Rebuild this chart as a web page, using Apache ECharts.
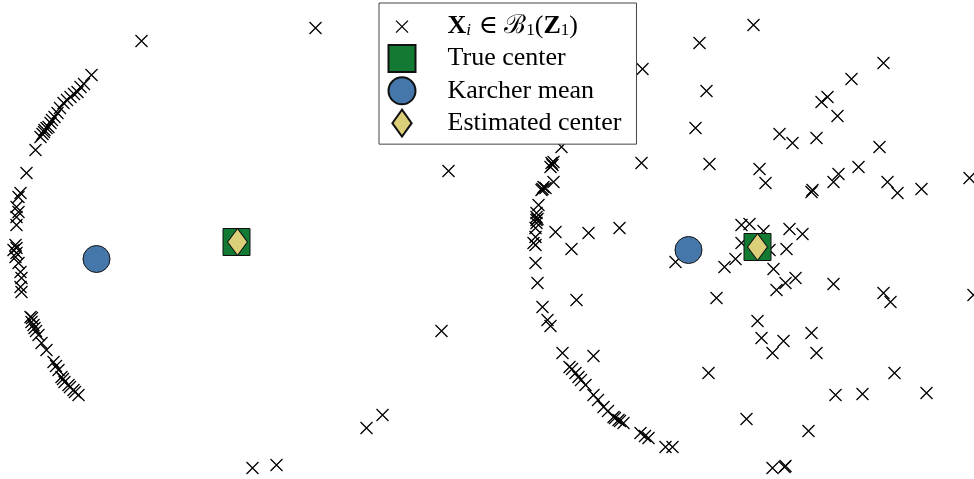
<!DOCTYPE html>
<html>
<head>
<meta charset="utf-8">
<script src="https://cdn.jsdelivr.net/npm/echarts@6/dist/echarts.min.js"></script>
<style>
html,body{margin:0;padding:0;background:#fff;}
#chart{width:974px;height:479px;}
</style>
</head>
<body>
<div id="chart"></div>
<script>
// Series names (legend order)
const seriesNames = ['X_i ∈ B_1(Z_1)', 'True center', 'Karcher mean', 'Estimated center'];

// Left panel: sample points (units: true center at origin)
const leftPoints = [
  [-72.5,83.5],[-78,77.5],[-79.5,75],[-83,72.5],[-86.5,69.5],[-89.5,64.5],[-91,62.5],[-93,59.5],
  [-94,57.5],[-96,56],[-97,54],[-98,52.5],[-100.5,46],[-105,34.5],[-108,24.5],[-109,22.5],
  [-110,17.5],[-109,15],[-110,12.5],[-110,8.5],
  [-95,57],[-96.25,55],[-92.25,61],[-88.25,67],[-84.75,71],[-81.25,74],[-76.25,79],
  [-110.5,-1.5],[-111.5,-4],[-110,-5.5],[-110.5,-7.5],[-110,-3],[-109,-10.5],[-108,-15],
  [-107.5,-18],[-108,-22.5],[-107.5,-25],
  [-103,-37.5],[-102.5,-40],[-101.5,-41.5],[-101,-43],[-99,-46.5],[-97.5,-50.5],[-95,-54],
  [-91.5,-60],[-89,-64],[-87.5,-67.5],[-86,-70],[-84,-71.5],[-81.5,-74],[-79,-76.5],
  [-102.25,-38],[-100.25,-44.5],[-90.25,-62],[-86.75,-68.5],[-83.25,-72.5],[-80.75,-75],
  [-47.5,100.5],[39.5,107],[106,35.5],[102.5,-44.5],[73,-86.5],[65,-93],[20,-111.5],[8,-113]
];
const leftTrueCenter = [[0,0]];
const leftKarcherMean = [[-70,-8.5]];
const leftEstimatedCenter = [[0.5,0]];

// Right panel: sample points (units: true center at origin)
const rightPoints = [
  [-98,50],[-102,42.5],[-103,42],[-103.5,40],[-102,32.5],[-107,30],[-108,28.5],[-106,29.5],
  [-109.5,21],[-110.5,17],[-110.5,15],[-110.5,13.5],[-111,9.5],[-111,5],[-112,2],[-111,1],
  [-111,-8],[-110,-18],[-107.5,-30],[-105,-36.5],[-103.5,-39.5],[-97.5,-53],[-94,-60],
  [-91,-63],[-89.5,-65],[-86,-69],[-82,-74],[-77,-80],[-72,-85],[-69.5,-86.5],[-67,-88],
  [-58.5,-93],[-54.5,-95.5],[-46,-100],[-42.5,-100],
  [-92.75,-61],[-74.75,-82],[-71.25,-85.5],[-68.75,-87],[-56.25,-94.5],[-88.25,-66.5],
  [-79.75,-76.5],[-102.5,41],[-107.5,29],[-110,14],[-110.5,12],
  [-2,111],[-29,102],[-57.5,89],[63,92],[47,84],[-25.5,78],[35,75],[32,72.5],[40,65.5],
  [-31,59.5],[11,56.5],[17.5,52],[29.5,54.5],[61,50],[-58,42],[-24,41.5],[1,39],[4,32],
  [50.5,40],[40.5,36.5],[38,32.5],[27.5,28.5],[27,27.5],[65,32.5],[70,27],[82,29],[106,34.5],
  [-101,7.5],[-84.5,7],[-69,9.5],[-8,11],[-4,11.5],[3,8],[16,9],[22.5,6.5],[-8,2],[6,-1.5],
  [14.5,-1],[-11,-6],[-16.5,-10],[-41,-7.5],[8,-11],[14,-18],[19,-15.5],[9.5,-21.5],
  [-20.5,-25.5],[-93,-1],[-90.5,-26.5],[38,-18.5],[63,-23],[66.5,-27.5],[108,-24],[0,-37],
  [2,-45.5],[13,-47],[7.5,-53],[27,-43],[29.5,-53],[-82,-54.5],[-24.5,-63],[68.5,-63],
  [39,-74],[52.5,-73.5],[84.5,-73],[-5.5,-86],[25.5,-92],[7.5,-110.5],[14,-109.5],[13.5,-110]
];
const rightTrueCenter = [[0,0]];
const rightKarcherMean = [[-34.5,-1.5]];
const rightEstimatedCenter = [[0,0]];

const serif = "'Liberation Serif', 'DejaVu Serif', serif";
const crossSymbol = 'path://M0,0L10,10M0,10L10,0';
const crossLegendIcon = 'path://M-13.5,-13.5M13.5,13.5M-6,-6L6,6M-6,6L6,-6';
const diamondIcon = 'path://M0,-14L10,0L0,14L-10,0Z';

const green = '#137a34', blue = '#4577aa', khaki = '#dccf7a', edge = '#111';

function pointSeries(data, idx) {
  return {
    name: seriesNames[0], type: 'scatter', xAxisIndex: idx, yAxisIndex: idx, data: data,
    symbol: crossSymbol, symbolSize: 12, z: 2,
    itemStyle: {color: '#000', borderColor: '#000', borderWidth: 1.25, opacity: 1}
  };
}
function centerSeries(name, data, idx, symbol, size, color, z) {
  return {
    name: name, type: 'scatter', xAxisIndex: idx, yAxisIndex: idx, data: data,
    symbol: symbol, symbolSize: size, z: z,
    itemStyle: {color: color, borderColor: edge, borderWidth: 1, opacity: 1}
  };
}

const chart = echarts.init(document.getElementById('chart'));
chart.setOption({
  animation: false,
  backgroundColor: '#fff',
  grid: [
    {left: 0, top: 0, width: 487, height: 479},
    {left: 487, top: 0, width: 487, height: 479}
  ],
  xAxis: [
    {gridIndex: 0, type: 'value', min: -118.25, max: 125.25, show: false},
    {gridIndex: 1, type: 'value', min: -135.25, max: 108.25, show: false}
  ],
  yAxis: [
    {gridIndex: 0, type: 'value', min: -118.5, max: 121, show: false},
    {gridIndex: 1, type: 'value', min: -116, max: 123.5, show: false}
  ],
  legend: {
    orient: 'vertical', left: 379, top: 3,
    padding: [9.5, 15, 6.5, 8.5],
    itemWidth: 27, itemHeight: 27, itemGap: 3.3,
    backgroundColor: '#fff', borderColor: '#444', borderWidth: 1, borderRadius: 0,
    selectedMode: false,
    itemStyle: {opacity: 1},
    data: [
      {name: seriesNames[0], icon: crossLegendIcon, itemStyle: {borderWidth: 1.25, borderColor: '#000'}},
      {name: seriesNames[1], icon: 'rect'},
      {name: seriesNames[2], icon: 'circle'},
      {name: seriesNames[3], icon: diamondIcon}
    ],
    formatter: function (name) {
      if (name === seriesNames[0]) {
        return '{sp| }{b|X}{subi|i}{n| ∈ }{n|ℬ}{sub|1}{n|(}{b|Z}{sub|1}{n|)}';
      }
      return '{sp| }{t|' + name + '}';
    },
    textStyle: {
      fontFamily: serif, fontSize: 26, color: '#000',
      rich: {
        sp: {width: 27, fontSize: 26, fontFamily: serif, lineHeight: 27},
        t: {fontSize: 26, fontFamily: serif, lineHeight: 27, color: '#000'},
        n: {fontSize: 26, fontFamily: serif, lineHeight: 27, color: '#000'},
        b: {fontSize: 26, fontFamily: serif, fontWeight: 'bold', lineHeight: 27, color: '#000'},
        sub: {fontSize: 17, fontFamily: serif, lineHeight: 17, padding: [7, 0, 0, 0], color: '#000'},
        subi: {fontSize: 17, fontFamily: serif, fontStyle: 'italic', lineHeight: 17, padding: [7, 1, 0, 0], color: '#000'}
      }
    }
  },
  series: [
    pointSeries(leftPoints, 0),
    pointSeries(rightPoints, 1),
    centerSeries(seriesNames[1], leftTrueCenter, 0, 'rect', 27, green, 3),
    centerSeries(seriesNames[1], rightTrueCenter, 1, 'rect', 27, green, 3),
    centerSeries(seriesNames[2], leftKarcherMean, 0, 'circle', 27, blue, 3),
    centerSeries(seriesNames[2], rightKarcherMean, 1, 'circle', 27, blue, 3),
    centerSeries(seriesNames[3], leftEstimatedCenter, 0, 'diamond', [20, 27], khaki, 4),
    centerSeries(seriesNames[3], rightEstimatedCenter, 1, 'diamond', [20, 27], khaki, 4)
  ]
});
</script>
</body>
</html>
